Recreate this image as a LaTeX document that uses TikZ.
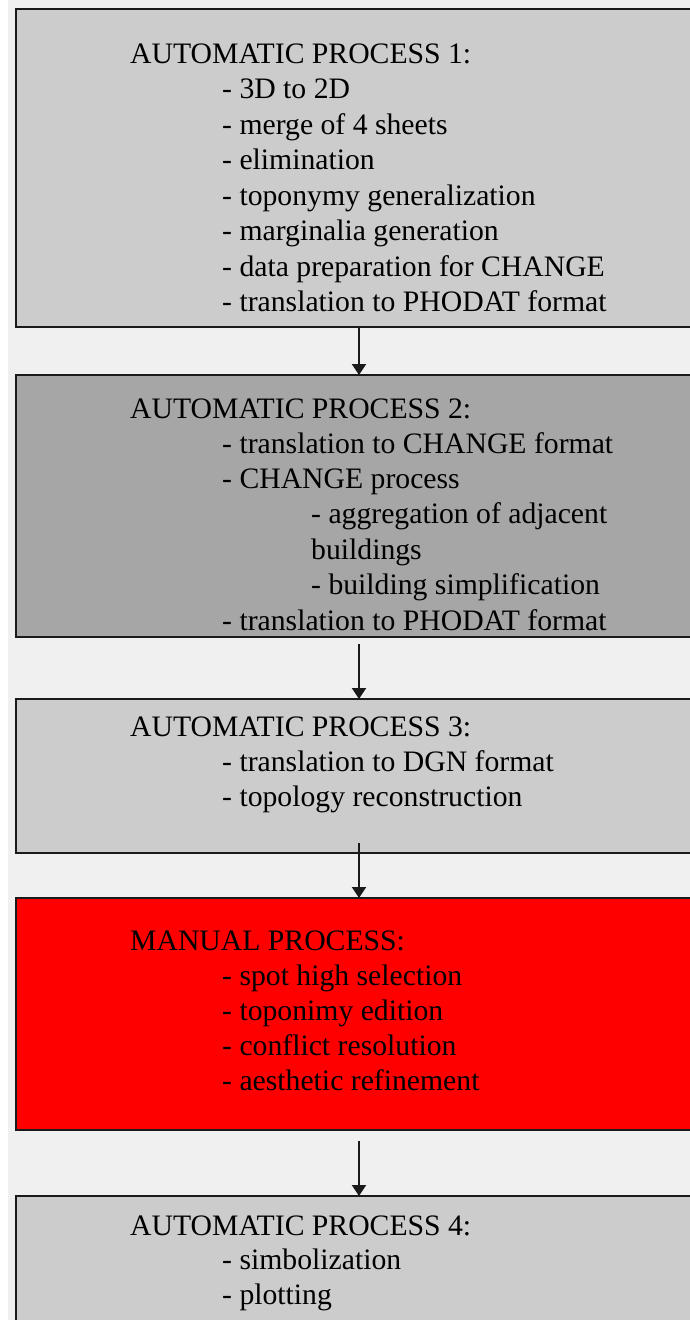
\documentclass[tikz,border=0pt]{standalone}
\usepackage{fontspec}
\setmainfont{Liberation Serif}
\usetikzlibrary{arrows.meta}
\definecolor{bgc}{HTML}{F0F0F0}
\definecolor{boxlight}{HTML}{CCCCCC}
\definecolor{boxdark}{HTML}{A6A6A6}
\definecolor{boxred}{HTML}{FF0000}
\definecolor{edge}{HTML}{1A1A1A}
\begin{document}
\begin{tikzpicture}[x=1pt,y=-1pt,
  procbox/.style={draw=edge, line width=2pt, rectangle, anchor=north west, inner sep=0pt, outer sep=0pt, minimum width=686pt},
  txt/.style={anchor=base west, inner sep=0pt, font=\fontsize{29.7}{35}\selectfont},
  arr/.style={draw=edge, line width=2pt, -{Triangle[length=11pt 0 0,width=14pt 0 0]}}]
\useasboundingbox (0,0) rectangle (690,1320);
\clip (0,0) rectangle (690,1320);
\fill[bgc] (0,0) rectangle (690,1320);
\fill[white] (0,0) rectangle (8,1320);
% boxes
\node[procbox, fill=boxlight, minimum height=318pt] (b1) at (16,9) {};
\node[procbox, fill=boxdark, minimum height=262pt] (b2) at (16,375) {};
\node[procbox, fill=boxlight, minimum height=154pt] (b3) at (16,699) {};
\node[procbox, fill=boxred, minimum height=232pt] (b4) at (16,898) {};
\node[procbox, fill=boxlight, minimum height=160pt] (b5) at (16,1196) {};
% box 1 text
\node[txt] (t1a) at (130,63) {AUTOMATIC PROCESS 1:};
\node[txt] (t1b) at (222,98.5) {- 3D to 2D};
\node[txt] (t1c) at (222,134) {- merge of 4 sheets};
\node[txt] (t1d) at (222,169.5) {- elimination};
\node[txt] (t1e) at (222,205) {- toponymy generalization};
\node[txt] (t1f) at (222,240.5) {- marginalia generation};
\node[txt] (t1g) at (222,276) {- data preparation for CHANGE};
\node[txt] (t1h) at (222,311.5) {- translation to PHODAT format};
% box 2 text
\node[txt] (t2a) at (130,418) {AUTOMATIC PROCESS 2:};
\node[txt] (t2b) at (222,453.3) {- translation to CHANGE format};
\node[txt] (t2c) at (222,488.6) {- CHANGE process};
\node[txt] (t2d) at (311,523.9) {- aggregation of adjacent};
\node[txt] (t2e) at (311,559.2) {buildings};
\node[txt] (t2f) at (311,594.5) {- building simplification};
\node[txt] (t2g) at (222,630) {- translation to PHODAT format};
% box 3 text
\node[txt] (t3a) at (130,736.5) {AUTOMATIC PROCESS 3:};
\node[txt] (t3b) at (222,771.5) {- translation to DGN format};
\node[txt] (t3c) at (222,806.5) {- topology reconstruction};
% box 4 text
\node[txt] (t4a) at (130,950.5) {MANUAL PROCESS:};
\node[txt] (t4b) at (222,985.5) {- spot high selection};
\node[txt] (t4c) at (222,1020.5) {- toponimy edition};
\node[txt] (t4d) at (222,1055.5) {- conflict resolution};
\node[txt] (t4e) at (222,1090.5) {- aesthetic refinement};
% box 5 text
\node[txt] (t5a) at (130,1235) {AUTOMATIC PROCESS 4:};
\node[txt] (t5b) at (222,1269.5) {- simbolization};
\node[txt] (t5c) at (222,1304.5) {- plotting};
% connectors
\coordinate (s2) at (359,644);
\coordinate (s3) at (359,843);
\coordinate (s4) at (359,1141);
\draw[arr] (b1.south) -- (b2.north);
\draw[arr] (s2) -- (b3.north);
\draw[arr] (s3) -- (b4.north);
\draw[arr] (s4) -- (b5.north);
\end{tikzpicture}
\end{document}
